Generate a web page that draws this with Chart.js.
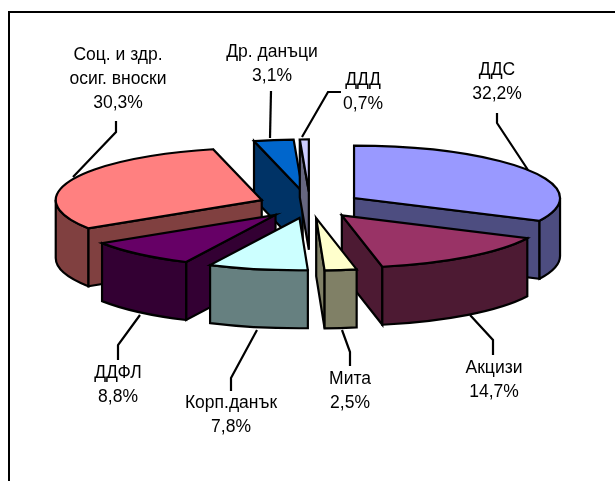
<!DOCTYPE html>
<html><head><meta charset="utf-8">
<style>html,body{margin:0;padding:0;background:#fff}#wrap{position:absolute;left:0;top:0;width:615px;height:481px}</style>
<script src="https://cdn.jsdelivr.net/npm/chart.js@4/dist/chart.umd.min.js"></script>
</head><body><div id="wrap"><canvas id="c"></canvas></div>
<script>
const categories = ['ДДС','Акцизи','Мита','Корп.данък','ДДФЛ','Соц. и здр.|осиг. вноски','Др. данъци','ДДД'];
const shares = [32.2,14.7,2.5,7.8,8.8,30.3,3.1,0.7];
const topColors = ['#9999FF','#993366','#FFFFCC','#CCFFFF','#660066','#FF8080','#0066CC','#CCCCFF'];
const sideColors = ['#4D4D80','#4D1A33','#808066','#668080','#330033','#804040','#003366','#666680'];
const paintOrder = [0,6,5,4,1,3,2,7];
const labelCenters = [[497,70],[494,368],[350,379],[231,403],[118,373],[118,55],[272,52],[363,80]];
const leaders = [
 [[497,113],[497,123],[528,170]],
 [[493,355],[493,340],[470,315]],
 [[350,366],[350,352],[342,330]],
 [[231,391],[231,378],[257,330]],
 [[118,360],[118,345],[140,315]],
 [[116,121],[116,132],[73,177]],
 [[271,91],[270,138]],
 [[341,92],[328,92],[302,137]]
];
const SQUASH = 0.254, DEPTH = 58, EXPLODE = 52, RADIUS = 206, LINE = 2.2;
const FONT = '17.5px "Liberation Sans", Arial, sans-serif', LINE_H = 24;

const pie3d = {
  id:'pie3d',
  beforeDatasetsDraw(chart){
    const ctx = chart.ctx, arcs = chart.getDatasetMeta(0).data;
    ctx.lineJoin='miter'; ctx.lineWidth=LINE; ctx.strokeStyle='#000';
    for(const i of paintOrder){
      const el = arcs[i], x=el.x, y=el.y, r=el.outerRadius, s=el.startAngle, e=el.endAngle, mid=(s+e)/2;
      const at=(z,f)=>{ctx.save();ctx.translate(x,y+z);ctx.scale(1,SQUASH);ctx.translate(-x,-y);
        ctx.translate(Math.cos(mid)*EXPLODE,Math.sin(mid)*EXPLODE);f();ctx.restore();};
      const paintSide=()=>{ctx.closePath();ctx.fillStyle=sideColors[i];ctx.fill();ctx.stroke();};
      const wall=a=>{ctx.beginPath();
        at(0,()=>{ctx.moveTo(x,y);ctx.lineTo(x+r*Math.cos(a),y+r*Math.sin(a));});
        at(DEPTH,()=>{ctx.lineTo(x+r*Math.cos(a),y+r*Math.sin(a));ctx.lineTo(x,y);});
        paintSide();};
      // a radial wall shows when its outward normal points down the screen
      if(Math.cos(s)<-1e-6) wall(s);
      if(Math.cos(e)>1e-6) wall(e);
      // curved outer wall: front half only
      const a0=Math.max(s,0), a1=Math.min(e,Math.PI);
      if(a1>a0){ctx.beginPath();
        at(0,()=>ctx.arc(x,y,r,a0,a1));
        at(DEPTH,()=>ctx.arc(x,y,r,a1,a0,true));
        paintSide();}
      // top face, filled by the library's own arc element
      at(0,()=>el.draw(ctx));
      ctx.beginPath();
      at(0,()=>{ctx.moveTo(x,y);ctx.arc(x,y,r,s,e);ctx.closePath();});
      ctx.stroke();
    }
    return false;
  },
  afterDraw(chart){
    const ctx=chart.ctx;
    ctx.save();
    ctx.strokeStyle='#000';ctx.lineWidth=2;ctx.beginPath();
    ctx.moveTo(9,481);ctx.lineTo(9,12);ctx.lineTo(615,12);ctx.stroke();
    ctx.lineWidth=LINE;
    for(const l of leaders){ctx.beginPath();l.forEach((p,k)=>k?ctx.lineTo(p[0],p[1]):ctx.moveTo(p[0],p[1]));ctx.stroke();}
    ctx.fillStyle='#000';ctx.font=FONT;ctx.textAlign='center';ctx.textBaseline='middle';
    categories.forEach((c,i)=>{
      const lines=c.split('|').concat(shares[i].toFixed(1).replace('.',',')+'%');
      lines.forEach((t,k)=>ctx.fillText(t,labelCenters[i][0],labelCenters[i][1]+k*LINE_H));
    });
    ctx.restore();
  }
};
new Chart(document.getElementById('c'),{
  type:'pie',
  data:{labels:categories,datasets:[{data:shares,backgroundColor:topColors,borderWidth:0}]},
  options:{responsive:true,maintainAspectRatio:false,animation:false,radius:RADIUS,
    layout:{padding:{left:5,right:0,top:0,bottom:71}},
    plugins:{legend:{display:false},tooltip:{enabled:false},title:{display:false}}},
  plugins:[pie3d]
});
</script></body></html>
